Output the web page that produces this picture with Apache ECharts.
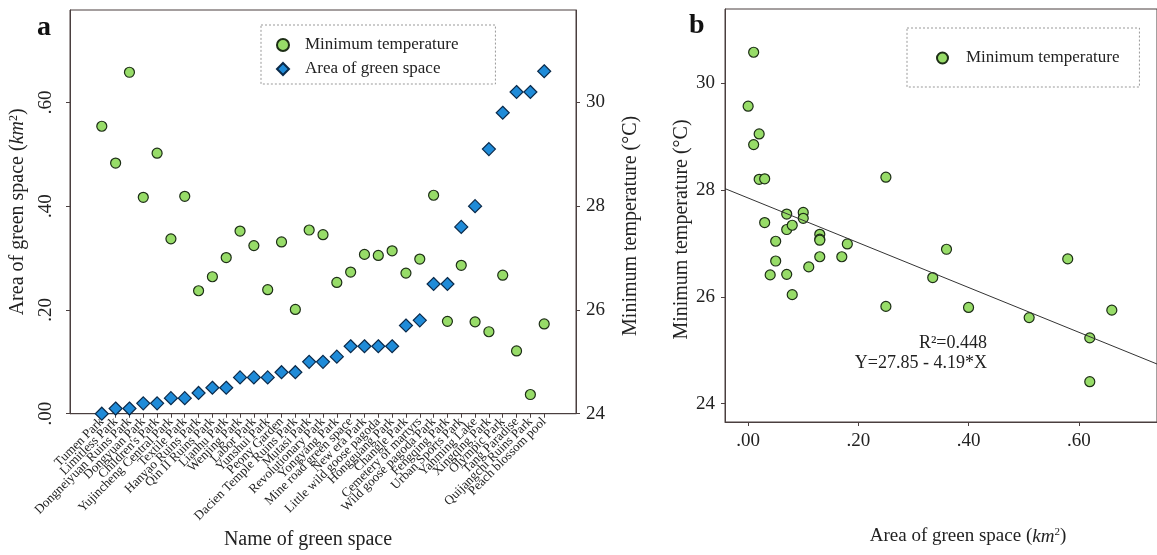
<!DOCTYPE html>
<html>
<head>
<meta charset="utf-8">
<script src="https://cdn.jsdelivr.net/npm/echarts@6/dist/echarts.min.js"></script>
<style>
html,body{margin:0;padding:0;background:#fff;}
#chart{width:1157px;height:555px;}
</style>
</head>
<body>
<div id="chart"></div>
<script>
// ---- Panel a data ----
const parkNames = [
  "Tumen Park","Limitless Park","Dongneiyuan Ruins Park","Dongyuan Park","Children's Park",
  "Yujincheng Central Park","Textile Park","Hanyao Ruins Park","Qin II Ruins Park","Lianhu Park",
  "Wenjing Park","Labor Park","Yunshui Park","Peony Garden","Dacien Temple Ruins Park",
  "Mutasi Park","Revolutionary Park","Yongyang Park","Mine road green space","New era Park",
  "Little wild goose pagoda","Hongguang Park","Changle Park","Cemetery of martyrs","Wild goose pagoda Park",
  "Fengqing Park","Urban Sports Park","Yanming Lake","Xingqing Park","Olympic Park",
  "Tang Paradise","Quijangchi Ruins Park","Peach blossom pool"
];
const areaValues = [0.00,0.01,0.01,0.02,0.02,0.03,0.03,0.04,0.05,0.05,0.07,0.07,0.07,0.08,0.08,0.10,0.10,
  0.11,0.13,0.13,0.13,0.13,0.17,0.18,0.25,0.25,0.36,0.40,0.51,0.58,0.62,0.62,0.66];
const minTemps = [29.54,28.83,30.58,28.17,29.02,27.37,28.19,26.37,26.64,27.01,27.52,27.24,26.39,27.31,26.01,27.54,27.45,
  26.53,26.73,27.07,27.05,27.14,26.71,26.98,28.21,25.78,26.86,25.77,25.58,26.67,25.21,24.37,25.73];
const areaTicks = [0, 0.2, 0.4, 0.6];
const tempTicks = [24, 26, 28, 30];

// ---- Panel b data ----
const scatterArea = [0.00,0.01,0.01,0.02,0.02,0.03,0.03,0.04,0.05,0.05,0.07,0.07,0.07,0.08,0.08,0.10,0.10,0.11,
  0.13,0.13,0.13,0.13,0.17,0.18,0.25,0.25,0.335,0.36,0.40,0.51,0.58,0.62,0.62,0.66];
const scatterTemp = [29.57,30.58,28.85,29.05,28.20,28.21,27.39,26.41,27.04,26.67,27.55,27.26,26.42,27.34,26.04,27.58,27.47,26.56,
  27.17,27.08,27.06,26.75,26.75,26.99,28.24,25.82,26.36,26.89,25.80,25.61,26.71,25.23,24.41,25.75];
const regIntercept = 27.85;
const regSlope = -4.19;
const bXTicks = [0, 0.2, 0.4, 0.6];
const bYTicks = [24, 26, 28, 30];

const FONT = "Liberation Serif";
const TXT = "#222";
const AX = "#4a3f3f";
const GREEN = "#97dc68";
const GREEN_B = "#1d2e16";
const BLUE = "#1f8bd8";
const BLUE_B = "#0b2a4a";

const aXMin = -2.3, aXMax = 34.3;
const bXMin = -0.042, bXMax = 0.742;
const fmtDec = v => v.toFixed(2).replace(/^0/, '');

const chart = echarts.init(document.getElementById('chart'));
const axisLineStyle = { show: true, onZero: false, lineStyle: { color: AX, width: 1 } };
const catIdx = parkNames.map((_, i) => i);
// empty guard labels at the axis ends so that no park name is dropped by min/max overlap handling
const catLabelValues = [-2, ...catIdx, parkNames.length + 1];

const option = {
  backgroundColor: '#fff',
  animation: false,
  textStyle: { fontFamily: FONT, color: TXT },
  grid: [
    { left: 70, top: 10, width: 506, height: 406, show: true, borderColor: AX, borderWidth: 1 },
    { left: 725, top: 9, width: 437, height: 413, show: true, borderColor: AX, borderWidth: 1 }
  ],
  xAxis: [
    {
      gridIndex: 0, type: 'value', min: aXMin, max: aXMax,
      axisLine: axisLineStyle,
      splitLine: { show: false },
      axisTick: { show: true, length: 4, customValues: catIdx, lineStyle: { color: AX } },
      axisLabel: {
        customValues: catLabelValues, showMinLabel: true, showMaxLabel: true, hideOverlap: false,
        formatter: v => (Number.isInteger(v) && v >= 0 && v < parkNames.length) ? parkNames[v] : '',
        rotate: 45, fontSize: 13, lineHeight: 8, fontFamily: FONT, color: TXT, margin: 6
      },
      name: 'Name of green space', nameLocation: 'middle', nameGap: 114,
      nameTextStyle: { fontSize: 20, fontFamily: FONT, color: TXT, padding: [0, 30, 0, 0] }
    },
    {
      gridIndex: 1, type: 'value', min: bXMin, max: bXMax,
      axisLine: axisLineStyle,
      splitLine: { show: false },
      axisTick: { show: true, length: 4, customValues: bXTicks, lineStyle: { color: AX } },
      axisLabel: { customValues: bXTicks, formatter: fmtDec, fontSize: 19, fontFamily: FONT, color: TXT, margin: 10 },
      name: '{t|Area of green space (}{i|km}{s|2}{t|)}', nameLocation: 'middle', nameGap: 105,
      nameTextStyle: {
        padding: [0, 0, 0, 54],
        rich: {
          t: { fontSize: 19, fontFamily: FONT, color: TXT },
          i: { fontSize: 19, fontFamily: FONT, color: TXT, fontStyle: 'italic' },
          s: { fontSize: 11, fontFamily: FONT, color: TXT, verticalAlign: 'top', padding: [0, 0, 8, 0] }
        }
      }
    }
  ],
  yAxis: [
    {
      gridIndex: 0, type: 'value', min: 0, max: 0.778, position: 'left',
      axisLine: axisLineStyle,
      splitLine: { show: false },
      axisTick: { show: true, length: 4, customValues: areaTicks, lineStyle: { color: AX } },
      axisLabel: { customValues: areaTicks, formatter: fmtDec, rotate: 90, fontSize: 19, fontFamily: FONT, color: TXT, margin: 14 },
      name: '{t|Area of green space (}{i|km}{s|2}{t|)}', nameLocation: 'middle', nameRotate: 90, nameGap: 42,
      nameTextStyle: {
        rich: {
          t: { fontSize: 20, fontFamily: FONT, color: TXT },
          i: { fontSize: 20, fontFamily: FONT, color: TXT, fontStyle: 'italic' },
          s: { fontSize: 12, fontFamily: FONT, color: TXT, verticalAlign: 'top', padding: [0, 0, 8, 0] }
        }
      }
    },
    {
      gridIndex: 0, type: 'value', min: 24, max: 31.78, position: 'right',
      axisLine: axisLineStyle,
      splitLine: { show: false },
      axisTick: { show: true, length: 4, customValues: tempTicks, lineStyle: { color: AX } },
      axisLabel: { customValues: tempTicks, fontSize: 19, fontFamily: FONT, color: TXT, margin: 10 },
      name: 'Minimum temperature (°C)', nameLocation: 'middle', nameRotate: 90, nameGap: 45,
      nameTextStyle: { fontSize: 20, fontFamily: FONT, color: TXT, padding: [0, 28, 0, 0] }
    },
    {
      gridIndex: 1, type: 'value', min: 23.655, max: 31.39,
      axisLine: axisLineStyle,
      splitLine: { show: false },
      axisTick: { show: true, length: 4, customValues: bYTicks, lineStyle: { color: AX } },
      axisLabel: { customValues: bYTicks, fontSize: 19, fontFamily: FONT, color: TXT, margin: 10 },
      name: 'Minimum temperature (°C)', nameLocation: 'middle', nameRotate: 90, nameGap: 33,
      nameTextStyle: { fontSize: 20, fontFamily: FONT, color: TXT, padding: [0, 28, 0, 0] }
    }
  ],
  legend: [
    {
      left: 261, top: 25, orient: 'vertical',
      data: [{ name: 'Minimum temperature', icon: 'circle' }, { name: 'Area of green space', icon: 'diamond' }],
      itemWidth: 12, itemHeight: 12, itemGap: 4, symbolKeepAspect: true,
      padding: [10, 37, 5, 15],
      borderColor: '#999', borderWidth: 1, borderType: [2, 2],
      textStyle: { fontSize: 17, fontFamily: FONT, color: TXT, lineHeight: 20, padding: [0, 0, 0, 11] },
      selectedMode: false
    },
    {
      left: 907, top: 28, orient: 'vertical',
      data: [{ name: 'Minimum temperature', icon: 'circle' }],
      itemWidth: 11, itemHeight: 11, symbolKeepAspect: true,
      padding: [20, 20, 19, 29],
      borderColor: '#999', borderWidth: 1, borderType: [2, 2],
      textStyle: { fontSize: 17, fontFamily: FONT, color: TXT, lineHeight: 20, padding: [0, 0, 0, 13] },
      selectedMode: false
    }
  ],
  graphic: [
    { type: 'text', left: 37, top: 14, style: { text: 'a', font: 'bold 28px "Liberation Serif"', fill: '#111' } },
    { type: 'text', left: 689, top: 12, style: { text: 'b', font: 'bold 28px "Liberation Serif"', fill: '#111' } },
    { type: 'text', x: 987, y: 343, style: { text: 'R²=0.448', font: '18px "Liberation Serif"', fill: TXT, textAlign: 'right', textVerticalAlign: 'middle' } },
    { type: 'text', x: 987, y: 363, style: { text: 'Y=27.85 - 4.19*X', font: '18px "Liberation Serif"', fill: TXT, textAlign: 'right', textVerticalAlign: 'middle' } }
  ],
  series: [
    {
      name: 'Minimum temperature', type: 'scatter', xAxisIndex: 0, yAxisIndex: 1,
      symbol: 'circle', symbolSize: 10,
      itemStyle: { color: GREEN, borderColor: GREEN_B, borderWidth: 1.2, opacity: 1 },
      data: minTemps.map((t, i) => [i, t])
    },
    {
      name: 'Area of green space', type: 'scatter', xAxisIndex: 0, yAxisIndex: 0,
      symbol: 'diamond', symbolSize: 13,
      itemStyle: { color: BLUE, borderColor: BLUE_B, borderWidth: 1.2, opacity: 1 },
      data: areaValues.map((a, i) => [i, a])
    },
    {
      name: 'Regression', type: 'line', xAxisIndex: 1, yAxisIndex: 2,
      showSymbol: false, symbol: 'none', silent: true,
      lineStyle: { color: '#333', width: 1 },
      data: [[bXMin, regIntercept + regSlope * bXMin], [bXMax, regIntercept + regSlope * bXMax]]
    },
    {
      name: 'Minimum temperature', type: 'scatter', xAxisIndex: 1, yAxisIndex: 2,
      symbol: 'circle', symbolSize: 10,
      itemStyle: { color: GREEN, borderColor: GREEN_B, borderWidth: 1.2, opacity: 1 },
      data: scatterArea.map((a, i) => [a, scatterTemp[i]])
    }
  ]
};
chart.setOption(option);
</script>
</body>
</html>
